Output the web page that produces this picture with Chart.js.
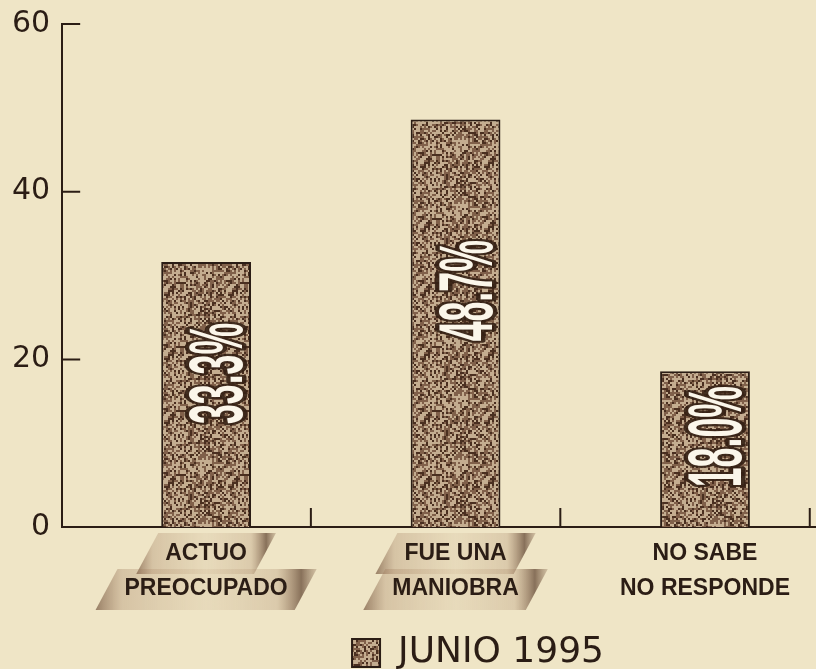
<!DOCTYPE html>
<html>
<head>
<meta charset="utf-8">
<script src="https://cdn.jsdelivr.net/npm/chart.js@4"></script>
<style>
  html, body { margin: 0; padding: 0; background: #efe5c6; }
  #wrap { width: 816px; height: 669px; }
</style>
</head>
<body>
<div id="wrap"><canvas id="chart"></canvas></div>
<script>
const categories = [["ACTUO", "PREOCUPADO"], ["FUE UNA", "MANIOBRA"], ["NO SABE", "NO RESPONDE"]];
const framed = [true, true, false];
const barHeights = [31.6, 48.6, 18.6];
const valueLabels = ["33.3%", "48.7%", "18.0%"];
const yTicks = [0, 20, 40, 60];
const seriesName = "JUNIO 1995";

const ink = "#2b1d15";
const labelFont = { family: '"Liberation Sans", Arial, sans-serif', size: 23, weight: "bold", lineHeight: 1.52 };

// speckled fill like the printed bars (deterministic hash, not data)
const makeSpeckle = () => {
  const c = document.createElement("canvas");
  c.width = c.height = 64;
  const g = c.getContext("2d");
  g.fillStyle = "#c4ad90";
  g.fillRect(0, 0, 64, 64);
  for (let y = 0; y < 64; y += 2) {
    for (let x = 0; x < 64; x += 2) {
      const h = Math.sin(x * 12.9898 + y * 78.233) * 43758.5453;
      const n = h - Math.floor(h);
      if (n > 0.45) {
        g.fillStyle = n > 0.78 ? "#4a2f20" : "#80604a";
        g.fillRect(x, y, 2, 2);
      }
    }
  }
  return g.createPattern(c, "repeat");
};
const speckle = makeSpeckle();

// slanted shaded bands behind the first two category labels
const labelBands = {
  id: "labelBands",
  beforeDraw(chart) {
    const { ctx, chartArea, scales: { x } } = chart;
    ctx.save();
    ctx.font = `bold ${labelFont.size}px ${labelFont.family}`;
    categories.forEach((lines, i) => {
      if (!framed[i]) return;
      const cx = x.getPixelForValue(i + 1);
      lines.forEach((line, j) => {
        const w = ctx.measureText(line).width + 36;
        const cy = chartArea.bottom + 26 + j * 36;
        const top = cy - 20, bot = cy + 21, slant = 11;
        const left = cx - w / 2;
        const grad = ctx.createLinearGradient(left - slant, 0, left + w + slant, 0);
        grad.addColorStop(0, "rgba(95,60,38,0.6)");
        grad.addColorStop(0.12, "rgba(150,110,80,0.28)");
        grad.addColorStop(0.5, "rgba(170,130,95,0.1)");
        grad.addColorStop(0.82, "rgba(150,110,80,0.22)");
        grad.addColorStop(0.93, "rgba(80,50,32,0.65)");
        grad.addColorStop(1, "rgba(120,85,60,0.25)");
        ctx.fillStyle = grad;
        ctx.beginPath();
        ctx.moveTo(left + slant, top);
        ctx.lineTo(left + w + slant, top);
        ctx.lineTo(left + w - slant, bot);
        ctx.lineTo(left - slant, bot);
        ctx.closePath();
        ctx.fill();
      });
    });
    ctx.restore();
  },
};

const inwardTicks = {
  id: "inwardTicks",
  afterDatasetsDraw(chart) {
    const { ctx, chartArea, scales: { x, y } } = chart;
    ctx.save();
    ctx.strokeStyle = ink;
    ctx.lineWidth = 2;
    ctx.beginPath();
    yTicks.slice(1).forEach((v) => {
      const py = y.getPixelForValue(v);
      ctx.moveTo(chartArea.left, py);
      ctx.lineTo(chartArea.left + 18, py);
    });
    categories.forEach((_, i) => {
      const px = x.getPixelForValue(i + 1.42);
      ctx.moveTo(px, chartArea.bottom);
      ctx.lineTo(px, chartArea.bottom - 19);
    });
    ctx.stroke();
    ctx.restore();
  },
};

// tall condensed percentages printed sideways inside the bars
const barText = {
  id: "barText",
  afterDatasetsDraw(chart) {
    const { ctx } = chart;
    const meta = chart.getDatasetMeta(0);
    ctx.save();
    ctx.font = 'bold 76px "Liberation Sans", Arial, sans-serif';
    ctx.textAlign = "center";
    ctx.textBaseline = "alphabetic";
    ctx.lineJoin = "round";
    meta.data.forEach((bar, i) => {
      const cy = bar.base + (bar.y - bar.base) * 0.58;
      ctx.save();
      ctx.translate(bar.x + 36, cy);
      ctx.rotate(-Math.PI / 2);
      ctx.scale(0.47, 1);
      ctx.lineWidth = 9;
      ctx.strokeStyle = "rgba(52,32,20,0.9)";
      ctx.strokeText(valueLabels[i], 0, 0);
      ctx.fillStyle = "#fbf6ea";
      ctx.fillText(valueLabels[i], 0, 0);
      ctx.restore();
    });
    ctx.restore();
  },
};

// the printed legend sits right of centre, under the middle bar
const legendPlace = {
  id: "legendPlace",
  afterLayout(chart) {
    const l = chart.legend;
    l.left += 70;
    l.right += 70;
    l.top += 20;
    l.bottom += 20;
  },
};

new Chart(document.getElementById("chart"), {
  type: "bar",
  data: {
    datasets: [
      {
        label: seriesName,
        data: barHeights.map((v, i) => ({ x: i + 1, y: v })),
        backgroundColor: speckle,
        borderColor: ink,
        borderWidth: 2,
        barPercentage: 0.45,
        categoryPercentage: 0.8,
      },
    ],
  },
  options: {
    responsive: true,
    maintainAspectRatio: false,
    animation: false,
    layout: { padding: { top: 0, left: 0, right: 0, bottom: 8 } },
    scales: {
      x: {
        type: "linear",
        offset: false,
        min: 0.423,
        max: 3.445,
        afterBuildTicks: (axis) => {
          axis.ticks = categories.map((_, i) => ({ value: i + 1 }));
        },
        grid: { display: false, drawTicks: false },
        border: { display: true, color: ink, width: 2 },
        ticks: {
          color: ink,
          padding: 9,
          maxRotation: 0,
          autoSkip: false,
          font: labelFont,
          callback: (value, index) => categories[index],
        },
      },
      y: {
        min: 0,
        max: 60,
        afterBuildTicks: (axis) => {
          axis.ticks = yTicks.map((v) => ({ value: v }));
        },
        grid: { display: false, drawTicks: false },
        border: { display: true, color: ink, width: 2 },
        ticks: {
          color: ink,
          padding: 12,
          font: { family: "DejaVu Sans", size: 30, lineHeight: 0.8 },
        },
      },
    },
    plugins: {
      tooltip: { enabled: false },
      legend: {
        position: "bottom",
        labels: {
          color: ink,
          boxWidth: 28,
          boxHeight: 28,
          padding: 0,
          font: { family: "DejaVu Sans", size: 36 },
        },
      },
    },
  },
  plugins: [labelBands, inwardTicks, barText, legendPlace],
});
</script>
</body>
</html>
